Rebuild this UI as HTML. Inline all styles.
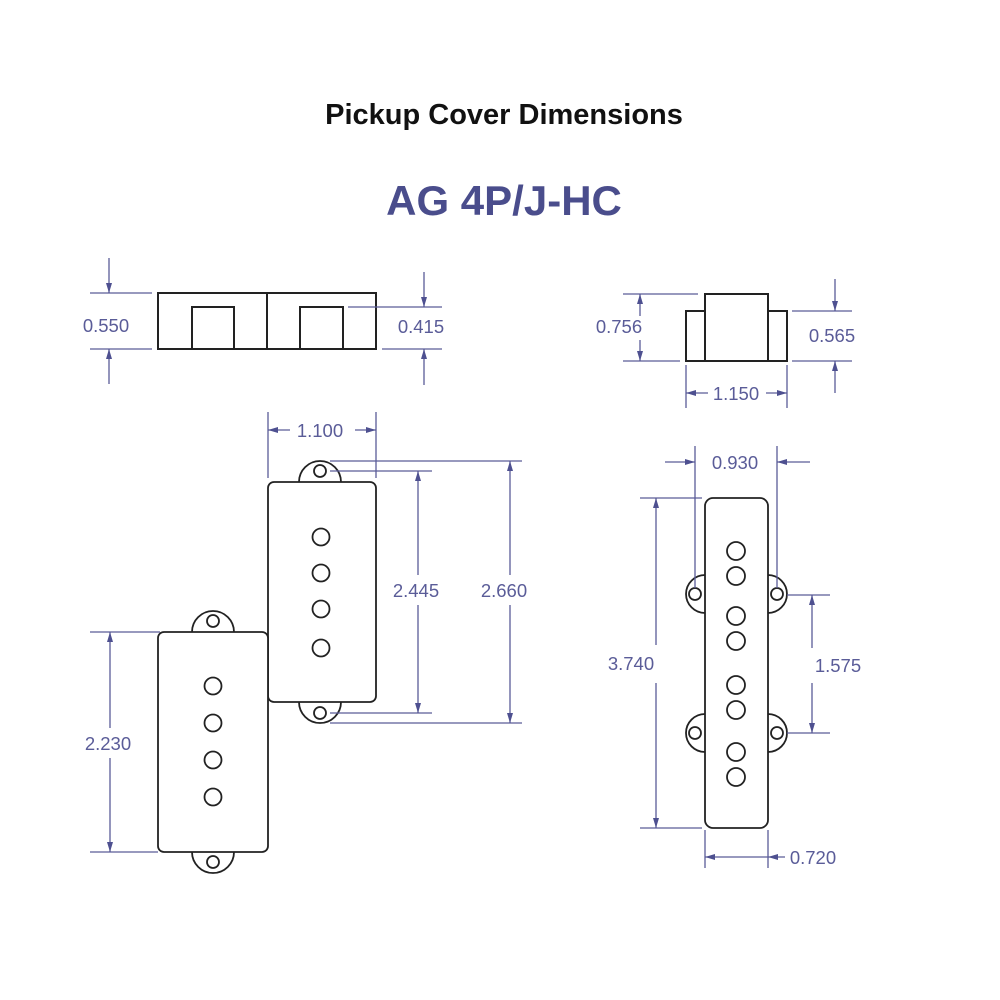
<!DOCTYPE html>
<html><head><meta charset="utf-8"><style>
html,body{margin:0;padding:0;background:#fff;}
svg{display:block}
.t{font-family:"Liberation Sans",sans-serif;}
</style></head><body>
<svg width="1000" height="1000" viewBox="0 0 1000 1000" xmlns="http://www.w3.org/2000/svg">
<defs>
<marker id="a" viewBox="0 0 10 6" refX="10" refY="3" markerWidth="12" markerHeight="6" markerUnits="userSpaceOnUse" orient="auto"><path d="M0,0 L10,3 L0,6 z" fill="#4e5090"/></marker>
</defs>
<text x="504" y="124" text-anchor="middle" class="t" font-size="29" font-weight="bold" fill="#111">Pickup Cover Dimensions</text>
<text x="504" y="215" text-anchor="middle" class="t" font-size="42" font-weight="bold" fill="#4a4d8c">AG 4P/J-HC</text>

<g fill="none" stroke="#222" stroke-width="2">
<rect x="158" y="293" width="218" height="56"/>
<line x1="267" y1="293" x2="267" y2="349"/>
<polyline points="192,349 192,307 234,307 234,349"/>
<polyline points="300,349 300,307 343,307 343,349"/>
<rect x="705" y="294" width="63" height="67"/>
<rect x="686" y="311" width="19" height="50"/>
<rect x="768" y="311" width="19" height="50"/>
</g>

<g fill="#fff" stroke="#222" stroke-width="1.8">
<path d="M299,482 A21,21 0 0 1 341,482"/>
<circle cx="320" cy="471" r="6"/>
<path d="M299,702 A21,21 0 0 0 341,702"/>
<circle cx="320" cy="713" r="6"/>
<rect x="268" y="482" width="108" height="220" rx="6"/>
<circle cx="321" cy="537" r="8.5"/><circle cx="321" cy="573" r="8.5"/><circle cx="321" cy="609" r="8.5"/><circle cx="321" cy="648" r="8.5"/>
<path d="M192,632 A21,21 0 0 1 234,632"/>
<circle cx="213" cy="621" r="6"/>
<path d="M192,852 A21,21 0 0 0 234,852"/>
<circle cx="213" cy="862" r="6"/>
<rect x="158" y="632" width="110" height="220" rx="6"/>
<circle cx="213" cy="686" r="8.5"/><circle cx="213" cy="723" r="8.5"/><circle cx="213" cy="760" r="8.5"/><circle cx="213" cy="797" r="8.5"/>
<path d="M705,575 A19,19 0 0 0 705,613"/>
<path d="M768,575 A19,19 0 0 1 768,613"/>
<path d="M705,714 A19,19 0 0 0 705,752"/>
<path d="M768,714 A19,19 0 0 1 768,752"/>
<circle cx="695" cy="594" r="6"/><circle cx="777" cy="594" r="6"/>
<circle cx="695" cy="733" r="6"/><circle cx="777" cy="733" r="6"/>
<rect x="705" y="498" width="63" height="330" rx="8"/>
<circle cx="736" cy="551" r="9"/><circle cx="736" cy="576" r="9"/>
<circle cx="736" cy="616" r="9"/><circle cx="736" cy="641" r="9"/>
<circle cx="736" cy="685" r="9"/><circle cx="736" cy="710" r="9"/>
<circle cx="736" cy="752" r="9"/><circle cx="736" cy="777" r="9"/>
</g>

<g stroke="#5a5c98" stroke-width="1.3" fill="none">
<line x1="90" y1="293" x2="152" y2="293"/><line x1="90" y1="349" x2="152" y2="349"/>
<line x1="109" y1="258" x2="109" y2="293" marker-end="url(#a)"/>
<line x1="109" y1="384" x2="109" y2="349" marker-end="url(#a)"/>
<line x1="348" y1="307" x2="442" y2="307"/><line x1="382" y1="349" x2="442" y2="349"/>
<line x1="424" y1="272" x2="424" y2="307" marker-end="url(#a)"/>
<line x1="424" y1="385" x2="424" y2="349" marker-end="url(#a)"/>
<line x1="268" y1="412" x2="268" y2="478"/><line x1="376" y1="412" x2="376" y2="478"/>
<line x1="290" y1="430" x2="268" y2="430" marker-end="url(#a)"/>
<line x1="355" y1="430" x2="376" y2="430" marker-end="url(#a)"/>
<line x1="330" y1="471" x2="432" y2="471"/><line x1="330" y1="713" x2="432" y2="713"/>
<line x1="418" y1="575" x2="418" y2="471" marker-end="url(#a)"/>
<line x1="418" y1="605" x2="418" y2="713" marker-end="url(#a)"/>
<line x1="330" y1="461" x2="522" y2="461"/><line x1="330" y1="723" x2="522" y2="723"/>
<line x1="510" y1="575" x2="510" y2="461" marker-end="url(#a)"/>
<line x1="510" y1="605" x2="510" y2="723" marker-end="url(#a)"/>
<line x1="90" y1="632" x2="160" y2="632"/><line x1="90" y1="852" x2="158" y2="852"/>
<line x1="110" y1="728" x2="110" y2="632" marker-end="url(#a)"/>
<line x1="110" y1="758" x2="110" y2="852" marker-end="url(#a)"/>
<line x1="623" y1="294" x2="698" y2="294"/><line x1="623" y1="361" x2="680" y2="361"/>
<line x1="640" y1="316" x2="640" y2="294" marker-end="url(#a)"/>
<line x1="640" y1="340" x2="640" y2="361" marker-end="url(#a)"/>
<line x1="792" y1="311" x2="852" y2="311"/><line x1="792" y1="361" x2="852" y2="361"/>
<line x1="835" y1="279" x2="835" y2="311" marker-end="url(#a)"/>
<line x1="835" y1="393" x2="835" y2="361" marker-end="url(#a)"/>
<line x1="686" y1="365" x2="686" y2="408"/><line x1="787" y1="365" x2="787" y2="408"/>
<line x1="708" y1="393" x2="686" y2="393" marker-end="url(#a)"/>
<line x1="766" y1="393" x2="787" y2="393" marker-end="url(#a)"/>
<line x1="695" y1="446" x2="695" y2="588"/><line x1="777" y1="446" x2="777" y2="588"/>
<line x1="665" y1="462" x2="695" y2="462" marker-end="url(#a)"/>
<line x1="810" y1="462" x2="777" y2="462" marker-end="url(#a)"/>
<line x1="640" y1="498" x2="702" y2="498"/><line x1="640" y1="828" x2="702" y2="828"/>
<line x1="656" y1="645" x2="656" y2="498" marker-end="url(#a)"/>
<line x1="656" y1="683" x2="656" y2="828" marker-end="url(#a)"/>
<line x1="787" y1="595" x2="830" y2="595"/><line x1="787" y1="733" x2="830" y2="733"/>
<line x1="812" y1="648" x2="812" y2="595" marker-end="url(#a)"/>
<line x1="812" y1="683" x2="812" y2="733" marker-end="url(#a)"/>
<line x1="705" y1="830" x2="705" y2="868"/><line x1="768" y1="830" x2="768" y2="868"/>
<line x1="768" y1="857" x2="705" y2="857" marker-end="url(#a)"/>
<line x1="785" y1="857" x2="768" y2="857" marker-end="url(#a)"/>
</g>

<g class="t" font-size="18.5" fill="#5a5c98" text-anchor="middle">
<text x="106" y="332">0.550</text>
<text x="421" y="333">0.415</text>
<text x="320" y="437">1.100</text>
<text x="416" y="597">2.445</text>
<text x="504" y="597">2.660</text>
<text x="108" y="750">2.230</text>
<text x="619" y="333">0.756</text>
<text x="832" y="342">0.565</text>
<text x="736" y="400">1.150</text>
<text x="735" y="469">0.930</text>
<text x="631" y="670">3.740</text>
<text x="838" y="672">1.575</text>
<text x="813" y="864">0.720</text>
</g>
</svg>
</body></html>
